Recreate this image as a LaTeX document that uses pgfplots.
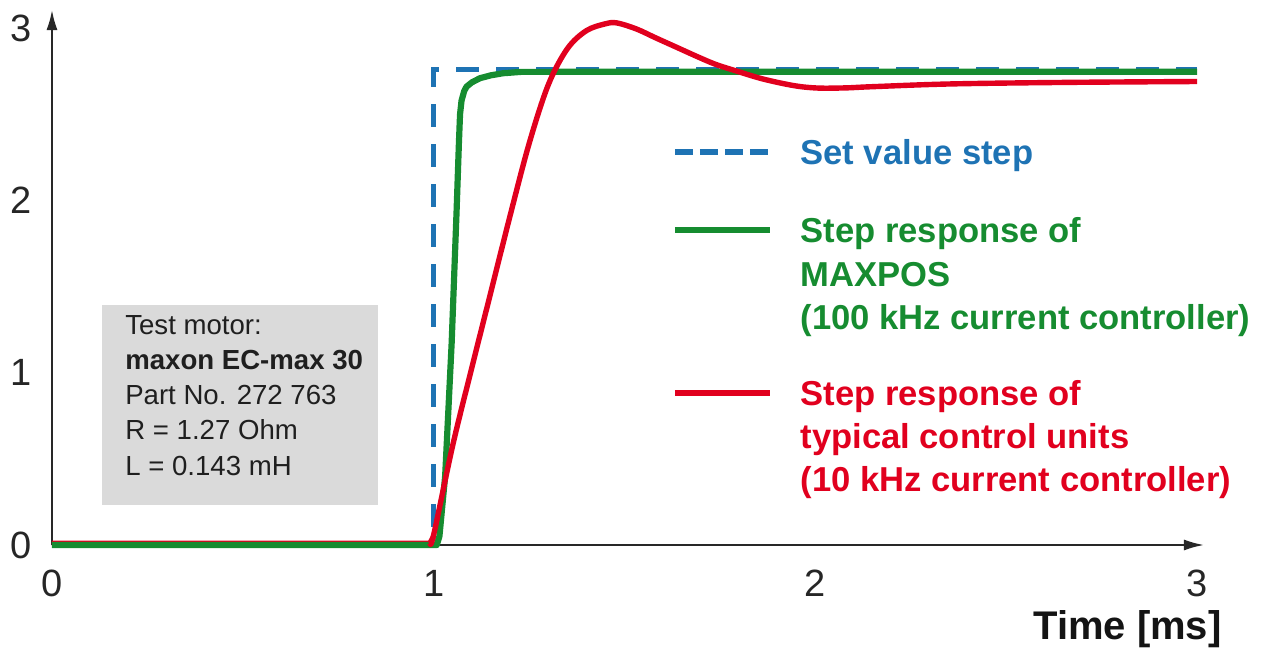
\documentclass[border=0pt]{standalone}
\usepackage{pgfplots}
\pgfplotsset{compat=1.18}
\usepackage{fontspec}
\setmainfont{Liberation Sans}
\usetikzlibrary{arrows.meta}
\definecolor{setblue}{RGB}{30,115,180}
\definecolor{mgreen}{RGB}{22,140,48}
\definecolor{mred}{RGB}{225,0,30}
\definecolor{boxgray}{RGB}{218,218,218}
\definecolor{axisgray}{RGB}{40,40,40}
\newcommand{\legfont}{\fontsize{17.3}{20}\selectfont\bfseries}
\newcommand{\boxfont}{\fontsize{13.8}{17}\selectfont}
\begin{document}
\begin{tikzpicture}
\begin{axis}[
  scale only axis, width=576pt, height=267.5pt,
  xmin=0, xmax=3.018, ymin=0, ymax=3.105,
  axis x line=bottom, axis y line=left,
  axis line style={line width=1pt, draw=axisgray, -{Latex[length=10pt,width=5.5pt]}},
  xtick={0,1,2,3}, ytick={0,1,2,3},
  major tick length=0pt,
  /pgf/number format/assume math mode=true,
  tick label style={font=\fontsize{19}{22}\selectfont, text=black!85},
  xticklabel style={anchor=base, yshift=-25.75pt, inner sep=0pt},
  yticklabel style={anchor=east, xshift=-10pt, inner sep=0pt},
  clip=false,
]
% info box
\fill[boxgray] (axis cs:0.131,0.232) rectangle (axis cs:0.853,1.393);
\node[anchor=base west, inner sep=0pt, font=\boxfont, text=black!88] at (axis cs:0.191,1.219) {Test motor:};
\node[anchor=base west, inner sep=0pt, font=\boxfont\bfseries, text=black!88] at (axis cs:0.191,1.016) {maxon EC-max 30};
\node[anchor=base west, inner sep=0pt, font=\boxfont, text=black!88] at (axis cs:0.191,0.813) {Part No. 272 763};
\node[anchor=base west, inner sep=0pt, font=\boxfont, text=black!88] at (axis cs:0.191,0.610) {R = 1.27 Ohm};
\node[anchor=base west, inner sep=0pt, font=\boxfont, text=black!88] at (axis cs:0.191,0.406) {L = 0.143 mH};

% red before step (under the green)
\addplot[mred, line width=2.7pt, line join=round] coordinates {(0,0.01) (0.99,0.01) (1.0,0.05)};
% set value step
\addplot[setblue, line width=2.7pt, dash pattern=on 11.5pt off 8.5pt] coordinates {(0,0) (1.0,0) (1.0,2.761) (3.0,2.761)};
% MAXPOS response
\addplot[mgreen, line width=3.1pt, line join=round] coordinates {
(0,0) (1.008,0) (1.015,0.05) (1.030,0.40) (1.047,1.17) (1.060,1.94) (1.066,2.33)
(1.069,2.50) (1.073,2.58) (1.080,2.635) (1.086,2.66) (1.100,2.685) (1.121,2.709)
(1.15,2.726) (1.182,2.738) (1.23,2.746) (3.0,2.747)};
% typical control unit response
\addplot[mred, line width=2.7pt, line join=round, smooth, tension=0.55] coordinates {
(0.99,0.01) (1.00,0.06) (1.05,0.58) (1.10,1.03) (1.15,1.47) (1.20,1.91) (1.25,2.33)
(1.30,2.67) (1.35,2.88) (1.40,2.985) (1.45,3.025) (1.48,3.03) (1.531,2.995) (1.58,2.945)
(1.634,2.891) (1.69,2.835) (1.738,2.79) (1.790,2.753) (1.862,2.705) (1.944,2.666)
(2.006,2.652) (2.08,2.653) (2.15,2.66) (2.357,2.676) (2.667,2.685) (3.00,2.69)};

% legend
\draw[setblue, line width=2.7pt, dash pattern=on 9pt off 3.5pt] (axis cs:1.632,2.281) -- (axis cs:1.880,2.281);
\node[anchor=base west, inner sep=0pt, font=\legfont, text=setblue] at (axis cs:1.960,2.208) {Set value step};
\draw[mgreen, line width=3pt] (axis cs:1.632,1.828) -- (axis cs:1.880,1.828);
\node[anchor=base west, inner sep=0pt, font=\legfont, text=mgreen] at (axis cs:1.960,1.753) {Step response of};
\node[anchor=base west, inner sep=0pt, font=\legfont, text=mgreen] at (axis cs:1.960,1.500) {MAXPOS};
\node[anchor=base west, inner sep=0pt, font=\legfont, text=mgreen] at (axis cs:1.960,1.250) {(100 kHz current controller)};
\draw[mred, line width=3pt] (axis cs:1.632,0.882) -- (axis cs:1.880,0.882);
\node[anchor=base west, inner sep=0pt, font=\legfont, text=mred] at (axis cs:1.960,0.8125) {Step response of};
\node[anchor=base west, inner sep=0pt, font=\legfont, text=mred] at (axis cs:1.960,0.560) {typical control units};
\node[anchor=base west, inner sep=0pt, font=\legfont, text=mred] at (axis cs:1.960,0.310) {(10 kHz current controller)};

% axis title
\node[anchor=base east, inner sep=0pt, font=\fontsize{20}{23}\selectfont\bfseries, text=black!92] at (axis cs:3.065,-0.551) {Time [ms]};

% page frame (invisible)
\path (axis cs:-0.13623,-0.60940) rectangle (axis cs:3.16741,3.16309);
\end{axis}
\end{tikzpicture}
\end{document}
